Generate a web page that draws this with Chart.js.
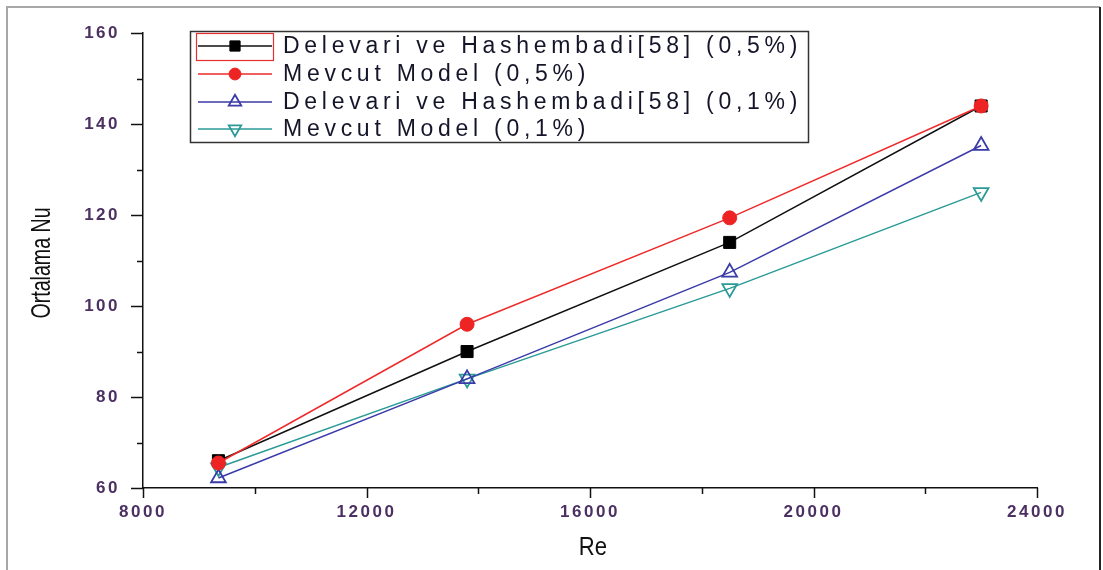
<!DOCTYPE html>
<html>
<head>
<meta charset="utf-8">
<script src="https://cdn.jsdelivr.net/npm/chart.js@4/dist/chart.umd.min.js"></script>
<style>
  html, body { margin: 0; padding: 0; background: #fff; }
  #wrap { width: 1103px; height: 570px; position: relative; }
</style>
</head>
<body>
<div id="wrap"><canvas id="c" width="1103" height="570"></canvas></div>
<script>
// ---- data ----
const reValues = [9350, 13800, 18500, 23000];
const delevari05 = [66, 90, 114, 144];
const mevcut05 = [65.5, 96, 119.4, 144];
const delevari01 = [62.2, 84, 107.4, 135.3];
const mevcut01 = [64.5, 84, 103.9, 125];
const seriesLabels = [
  'Delevari ve Hashembadi[58] (0,5%)',
  'Mevcut Model (0,5%)',
  'Delevari ve Hashembadi[58] (0,1%)',
  'Mevcut Model (0,1%)'
];
const xTickValues = [8000, 12000, 16000, 20000, 24000];
const yTickValues = [60, 80, 100, 120, 140, 160];
const xTitle = 'Re';
const yTitle = 'Ortalama Nu';

const pts = arr => arr.map((v, i) => ({ x: reValues[i], y: v }));

const PL = 20, PT = 30, PR = 66, PB = 0;
const CA_LEFT = 143, CA_BOTTOM = 488;

const axisPlugin = {
  id: 'axisExtras',
  beforeDraw(chart) {
    const ctx = chart.ctx;
    ctx.save();
    ctx.fillStyle = '#fff';
    ctx.fillRect(0, 0, chart.width, chart.height);
    // outer frame
    ctx.strokeStyle = '#a8a8a8';
    ctx.lineWidth = 2;
    ctx.beginPath();
    ctx.moveTo(7, 575); ctx.lineTo(7, 7); ctx.lineTo(1100, 7);
    ctx.stroke();
    ctx.strokeStyle = '#222';
    ctx.beginPath();
    ctx.moveTo(1100, 7); ctx.lineTo(1100, 575);
    ctx.stroke();
    ctx.restore();
    ctx.letterSpacing = '2.5px';
  },
  afterDraw(chart) {
    const ctx = chart.ctx;
    ctx.letterSpacing = '0px';
    const xs = chart.scales.x, ys = chart.scales.y;
    const a = chart.chartArea;
    ctx.save();
    ctx.strokeStyle = '#111';
    ctx.lineWidth = 1.5;
    // y ticks (outward, left)
    for (let v = ys.min; v <= ys.max + 1e-9; v += 10) {
      const y = Math.round(ys.getPixelForValue(v)) + 0.5;
      const major = (v % 20) === 0;
      ctx.beginPath();
      ctx.moveTo(a.left - (major ? 12 : 6), y);
      ctx.lineTo(a.left, y);
      ctx.stroke();
    }
    // x ticks (outward, down)
    for (let v = xs.min; v <= xs.max + 1e-9; v += 2000) {
      const x = Math.round(xs.getPixelForValue(v)) + 0.5;
      const major = (v % 4000) === 0;
      ctx.beginPath();
      ctx.moveTo(x, a.bottom);
      ctx.lineTo(x, a.bottom + (major ? 10 : 6));
      ctx.stroke();
    }
    // axis titles
    ctx.fillStyle = '#111';
    ctx.font = '28px "Liberation Sans", Arial, sans-serif';
    ctx.textAlign = 'center';
    ctx.textBaseline = 'middle';
    ctx.save();
    ctx.translate(42, 263);
    ctx.rotate(-Math.PI / 2);
    ctx.scale(0.7, 1);
    ctx.fillText(yTitle, 0, 0);
    ctx.restore();
    ctx.font = '26px "Liberation Sans", Arial, sans-serif';
    ctx.save();
    ctx.translate((a.left + a.right) / 2 + 3, 548);
    ctx.scale(0.85, 1);
    ctx.fillText(xTitle, 0, 0);
    ctx.restore();

    // legend
    const bx = 190.5, by = 31.5, bw = 618, bh = 111;
    ctx.strokeStyle = '#333';
    ctx.lineWidth = 1.5;
    ctx.strokeRect(bx, by, bw, bh);
    const rows = [46, 74, 102, 129];
    ctx.font = '23px "Liberation Sans", Arial, sans-serif';
    const w0 = ctx.measureText(seriesLabels[0]).width;
    const spacing = Math.max(0, (519 - w0) / seriesLabels[0].length);
    chart.data.datasets.forEach((ds, i) => {
      const y = rows[i];
      if (i === 0) {
        ctx.strokeStyle = '#e53030';
        ctx.lineWidth = 1.2;
        ctx.strokeRect(196.5, 33.5, 77, 27);
      }
      ctx.strokeStyle = ds.borderColor;
      ctx.lineWidth = ds.borderWidth;
      ctx.beginPath();
      ctx.moveTo(198, y); ctx.lineTo(272, y);
      ctx.stroke();
      const opts = {
        pointStyle: ds.pointStyle,
        radius: ds.pointRadius * 0.85,
        rotation: ds.pointRotation || 0,
        borderWidth: ds.pointBorderWidth
      };
      ctx.fillStyle = ds.pointBackgroundColor;
      ctx.strokeStyle = ds.pointBorderColor;
      ctx.lineWidth = ds.pointBorderWidth;
      if (Chart.helpers && Chart.helpers.drawPoint) {
        Chart.helpers.drawPoint(ctx, opts, 235, y);
      }
      ctx.fillStyle = '#15152a';
      ctx.textAlign = 'left';
      ctx.textBaseline = 'middle';
      ctx.letterSpacing = spacing.toFixed(2) + 'px';
      ctx.fillText(ds.label, 283, y + 1);
      ctx.letterSpacing = '0px';
    });
    ctx.restore();
  }
};

new Chart(document.getElementById('c'), {
  type: 'line',
  data: {
    datasets: [
      {
        label: seriesLabels[0], data: pts(delevari05),
        borderColor: '#111111', borderWidth: 1.5,
        pointStyle: 'rect', pointRadius: 8.5, pointBackgroundColor: '#000', pointBorderColor: '#000', pointBorderWidth: 1,
        order: 1
      },
      {
        label: seriesLabels[1], data: pts(mevcut05),
        borderColor: '#ee2a2a', borderWidth: 1.5,
        pointStyle: 'circle', pointRadius: 7, pointBackgroundColor: '#ee2424', pointBorderColor: '#ee2424', pointBorderWidth: 1,
        order: 0
      },
      {
        label: seriesLabels[2], data: pts(delevari01),
        borderColor: '#3a3aa8', borderWidth: 1.5,
        pointStyle: 'triangle', pointRadius: 8.5, pointBackgroundColor: 'rgba(0,0,0,0)', pointBorderColor: '#3a3aa8', pointBorderWidth: 1.8,
        order: 2
      },
      {
        label: seriesLabels[3], data: pts(mevcut01),
        borderColor: '#2a9a96', borderWidth: 1.5,
        pointStyle: 'triangle', pointRotation: 180, pointRadius: 8.5, pointBackgroundColor: 'rgba(0,0,0,0)', pointBorderColor: '#2a9a96', pointBorderWidth: 1.8,
        order: 3
      }
    ]
  },
  options: {
    responsive: false,
    animation: false,
    devicePixelRatio: 1,
    layout: { padding: { left: PL, top: PT, right: PR, bottom: PB } },
    plugins: { legend: { display: false }, tooltip: { enabled: false } },
    elements: { line: { tension: 0 } },
    scales: {
      x: {
        type: 'linear', min: 8000, max: 24000,
        afterBuildTicks: s => { s.ticks = xTickValues.map(v => ({ value: v })); },
        afterFit: s => { s.height = 570 - CA_BOTTOM - PB; },
        grid: { display: false, drawTicks: false },
        border: { display: true, color: '#111', width: 1.5 },
        ticks: {
          padding: 14, color: '#4b3062', maxRotation: 0,
          font: { family: '"Liberation Sans", Arial, sans-serif', size: 17, weight: 'bold' },
          callback: v => String(v)
        },
        title: { display: false }
      },
      y: {
        type: 'linear', min: 60, max: 160,
        afterBuildTicks: s => { s.ticks = yTickValues.map(v => ({ value: v })); },
        afterFit: s => { s.width = CA_LEFT - PL; },
        grid: { display: false, drawTicks: false },
        border: { display: true, color: '#111', width: 1.5 },
        ticks: {
          padding: 23, color: '#4b3062',
          font: { family: '"Liberation Sans", Arial, sans-serif', size: 17, weight: 'bold' },
          callback: v => String(v)
        },
        title: { display: false }
      }
    }
  },
  plugins: [axisPlugin]
});
</script>
</body>
</html>
